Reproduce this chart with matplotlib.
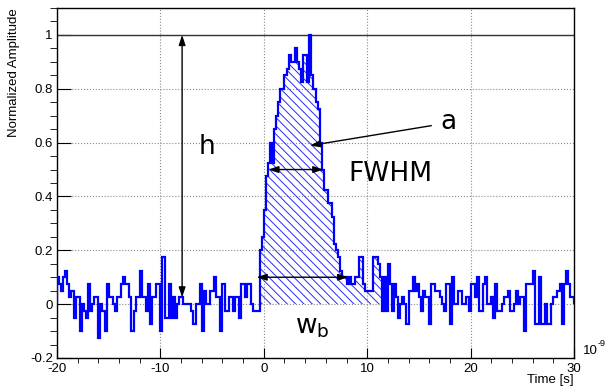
"""Normalized pulse waveform with the height, FWHM, base width and area marked."""
import matplotlib
matplotlib.use("Agg")
import matplotlib.pyplot as plt
import numpy as np
from matplotlib.ticker import FuncFormatter, MultipleLocator

# waveform in ADC counts, 0.2 ns bins starting at -20 ns
t_start = -20.0
bin_width = 0.2
pre_counts = [4, 3, 2, 4, 5, 3, 1, 2, -2, 1, 1, -4, 0, -1, -2, 3, -1, 0, 1, 1,
              -5, 0, -1, -4, 3, 1, 1, 0, -1, 1, 1, 3, 4, 3, 3, 1, -4, -1, 1, 1,
              5, 1, 1, -1, 3, -3, 1, 1, 3, 3, -4, 7,
              -2, -2, 3, -2, 1, -2, 0, 1, 1, 0, 0, 0, 0, -1, -3, 0, 0, 3, -4, 2,
              0, 0, 2, 2, 4, 1, 1, -4, 3, -1, -1, 1, 1, -1, 1, 1, -2, 3, 3, 1,
              3, 3, 0, -1, -1, -1]
pulse_counts = [8, 10, 14, 19, 21, 24, 21, 26, 28, 30, 32, 32, 34, 35, 37, 36, 36, 38, 36, 35,
                33, 37, 37, 33, 40, 34, 32, 30, 29, 24, 20, 17, 17, 15, 15, 13, 9, 8, 7, 5,
                4, 4, 3, 4, 3, 3, 4, 4, 7, 7, 3, 2, 2, 2, 2, 7, 7, 6, 4]
post_counts = [-1, 4, -1, 6, 3, -1, 3, 1, -2, 0, 1, 0, -3, 2, 2, 4, 2, 3, 1, -1,
               2, 1, 1, -3, 3, 3, 2, 2, 1, 0, -1,
               3, 3, -3, 4, 0, 0, 2, 2, 0, 0, 1, -1, 3, 3, 1, 4, -1, -1, 3, 4,
               0, 0, 1, -2, 3, -1, -1, 0, 1, 1, 2, -1, -1, 0, 2, 0, 1, 1, -4, 3,
               3, 3, 5, -3, -3, 4, -3, -3, 0, -3, -3, 0, 1, 1, 2, 3, -3, 3, 5, 3,
               1, 1]

# annotation geometry (ns, normalized amplitude)
h_x = -7.9
fwhm_range = (0.44, 5.76)
wb_range = (-0.7, 8.17)
area_start, area_end = -0.4, 11.4
tail_knee = (8.0, 0.1)

counts = np.array(pre_counts + pulse_counts + post_counts, dtype=float)
amp = counts / counts.max()
edges = t_start + bin_width * np.arange(len(amp) + 1)

plt.rcParams["axes.unicode_minus"] = False
plt.rcParams["hatch.linewidth"] = 0.7
tick_font = "Liberation Sans"

fig = plt.figure(figsize=(6.08, 3.9), dpi=100)
ax = fig.add_axes([57 / 608, 32 / 390, 517 / 608, 350 / 390])

# hatched area under the pulse
tt = np.linspace(area_start, area_end, 4000)
idx = np.clip(((tt - t_start) / bin_width).astype(int), 0, len(amp) - 1)
tail = np.where(tt >= tail_knee[0],
                tail_knee[1] * (area_end - tt) / (area_end - tail_knee[0]), 0)
top = np.maximum(np.maximum(amp[idx], tail), 0)
ax.fill_between(tt, 0, top, facecolor="none", edgecolor="#2a2aff",
                hatch="\\\\\\\\", linewidth=0, zorder=2)

ax.stairs(amp, edges, color="#0000ff", lw=1.6, zorder=3)
ax.axhline(1.0, color="#333333", lw=1.0, zorder=2)

arrow2 = dict(arrowstyle="<|-|>,head_length=0.6,head_width=0.2", color="black",
              lw=1.0, shrinkA=0, shrinkB=0)
ax.annotate("", xy=(h_x, 1.0), xytext=(h_x, 0.025), arrowprops=arrow2, zorder=4)
ax.annotate("", xy=(fwhm_range[1], 0.5), xytext=(fwhm_range[0], 0.5),
            arrowprops=arrow2, zorder=4)
ax.annotate("", xy=(wb_range[1], 0.1), xytext=(wb_range[0], 0.1),
            arrowprops=arrow2, zorder=4)
ax.annotate("", xy=(4.47, 0.589), xytext=(16.2, 0.663),
            arrowprops=dict(arrowstyle="-|>,head_length=0.6,head_width=0.2",
                            color="black", lw=1.0, shrinkA=0, shrinkB=0), zorder=4)

ax.text(-5.45, 0.556, "h", fontsize=19, ha="center", va="baseline")
ax.text(12.2, 0.459, "FWHM", fontsize=19, ha="center", va="baseline")
ax.text(17.9, 0.651, "a", fontsize=19, ha="center", va="baseline")
ax.text(3.0, -0.109, r"$\mathregular{w_b}$", fontsize=19, ha="left", va="baseline")

ax.set_xlim(-20, 30)
ax.set_ylim(-0.2, 1.1)
ax.set_xticks([-20, -10, 0, 10, 20, 30])
ax.set_yticks(np.round(np.arange(-0.2, 1.01, 0.2), 1))
ax.xaxis.set_minor_locator(MultipleLocator(2))
ax.yaxis.set_minor_locator(MultipleLocator(0.05))
ax.yaxis.set_major_formatter(FuncFormatter(lambda v, _: f"{v:g}"))
ax.grid(True, which="major", linestyle=":", color="#8a8a8a", lw=0.8, zorder=1)

ax.tick_params(direction="in", top=False, right=False, colors="black")
ax.tick_params(axis="x", which="major", length=7.2, pad=3.5)
ax.tick_params(axis="x", which="minor", length=3.6)
ax.tick_params(axis="y", which="major", length=10, pad=3)
ax.tick_params(axis="y", which="minor", length=5)
for lab in ax.get_xticklabels() + ax.get_yticklabels():
    lab.set_fontfamily(tick_font)
    lab.set_fontsize(9.5)
for sp in ax.spines.values():
    sp.set_color("black")
    sp.set_linewidth(1.0)

ax.set_ylabel("Normalized Amplitude", fontfamily=tick_font, fontsize=9.5, loc="top")
ax.yaxis.set_label_coords(-0.071, 1.0)
ax.set_xlabel("Time [s]", fontfamily=tick_font, fontsize=9.5, loc="right")
ax.xaxis.set_label_coords(1.0, -0.046)
# axis exponent, ROOT style
fig.text(583 / 608, 1 - 351 / 390, "10", fontfamily=tick_font, fontsize=9.5,
         ha="left", va="center")
fig.text(597.5 / 608, 1 - 343 / 390, "-9", fontfamily=tick_font, fontsize=6.5,
         ha="left", va="center")

fig.savefig("out.png", dpi=100)
